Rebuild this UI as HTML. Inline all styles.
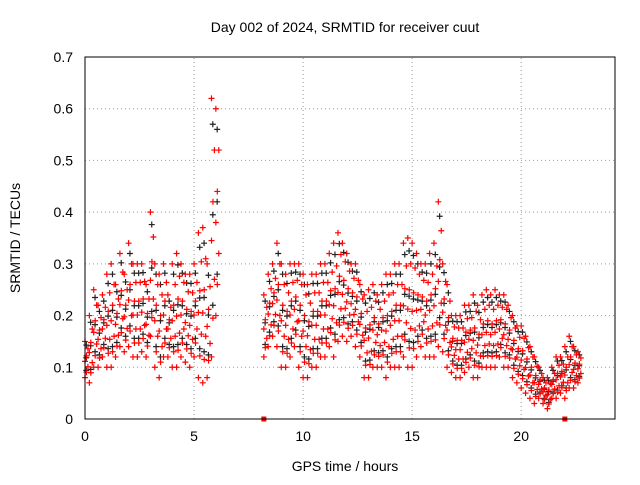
<!DOCTYPE html>
<html><head><meta charset="utf-8"><style>
body{margin:0;background:#fff}
svg text{font-family:"Liberation Sans",sans-serif;font-size:14px;fill:#000}
</style></head><body>
<svg id="c" width="640" height="480">
<text x="345" y="32" text-anchor="middle">Day 002 of 2024, SRMTID for receiver cuut</text>
<text x="345" y="471" text-anchor="middle">GPS time / hours</text>
<text transform="translate(20,238) rotate(-90)" text-anchor="middle">SRMTID / TECUs</text>
<g id="grid"></g><g id="marks"></g>
<rect x="85" y="57" width="530" height="362" fill="none" stroke="#000"/>
</svg>
<script>
const xTicks=[0,5,10,15,20];
const yTicks=[0,0.1,0.2,0.3,0.4,0.5,0.6,0.7];
const seg1Start=0, seg1Step=0.2;
const seg1Lo=[0.08,0.07,0.1,0.1,0.12,0.1,0.1,0.12,0.14,0.13,0.14,0.12,0.12,0.13,0.12,0.16,0.1,0.08,0.12,0.12,0.1,0.1,0.12,0.11,0.1,0.12,0.08,0.07,0.08,0.12,0.2];
const seg1Hi=[0.15,0.2,0.25,0.22,0.24,0.28,0.3,0.26,0.32,0.28,0.34,0.3,0.3,0.3,0.26,0.4,0.3,0.28,0.3,0.24,0.3,0.32,0.3,0.28,0.28,0.3,0.36,0.37,0.3,0.62,0.6];
const seg2Start=8.2, seg2Step=0.2;
const seg2Lo=[0.12,0.14,0.16,0.14,0.1,0.1,0.12,0.14,0.1,0.08,0.08,0.1,0.1,0.12,0.12,0.14,0.12,0.15,0.16,0.15,0.16,0.14,0.12,0.08,0.08,0.1,0.1,0.1,0.08,0.1,0.1,0.1,0.12,0.1,0.1,0.12,0.14,0.12,0.12,0.12,0.14,0.13,0.1,0.09,0.08,0.08,0.09,0.1,0.08,0.08,0.1,0.1,0.1,0.1,0.12,0.1,0.1,0.08,0.07,0.06,0.05,0.04,0.03,0.04,0.03,0.02,0.04,0.04,0.05,0.04,0.06,0.06,0.07];
const seg2Hi=[0.24,0.28,0.3,0.34,0.3,0.28,0.3,0.3,0.3,0.28,0.26,0.28,0.28,0.3,0.3,0.32,0.34,0.36,0.34,0.32,0.3,0.3,0.26,0.24,0.25,0.26,0.24,0.26,0.28,0.28,0.3,0.3,0.34,0.35,0.34,0.32,0.3,0.3,0.32,0.34,0.42,0.3,0.26,0.2,0.2,0.2,0.22,0.22,0.24,0.22,0.24,0.25,0.24,0.25,0.24,0.24,0.22,0.2,0.18,0.18,0.16,0.14,0.12,0.1,0.08,0.08,0.1,0.12,0.12,0.14,0.16,0.14,0.13];
const zeroMarks=[8.2,22.0];
const X0=85,X1=615,Y0=419,Y1=57,XMAX=24.3,YMAX=0.7;
const xs=v=>X0+(X1-X0)*v/XMAX, ys=v=>Y0-(Y0-Y1)*v/YMAX;
const ns="http://www.w3.org/2000/svg";
const grid=document.getElementById('grid'),marks=document.getElementById('marks');
function mk(tag,at,parent){const e=document.createElementNS(ns,tag);for(const k in at)e.setAttribute(k,at[k]);parent.appendChild(e);return e;}
xTicks.forEach(t=>{
 const l=mk('line',{x1:xs(t),x2:xs(t),y1:Y0,y2:Y1,stroke:'#999','stroke-dasharray':'1,3'},grid);
 
 
 const tx=mk('text',{x:xs(t),y:Y0+22,'text-anchor':'middle'},grid);tx.textContent=t;
 
 
});
yTicks.forEach(t=>{
 const l=mk('line',{x1:X0,x2:X1,y1:ys(t),y2:ys(t),stroke:'#999','stroke-dasharray':'1,3'},grid);
 
 
 const tx=mk('text',{x:X0-28,y:ys(t)+5,'text-anchor':'end'},grid);tx.textContent=t===0?'0':t.toFixed(1);
 tx.setAttribute('x',X0-12);
 
 
});
function plus(t,v,col,name){
 const x=xs(t),y=ys(v);
 const p=mk('path',{d:`M${x-3} ${y}h6M${x} ${y-3}v6`,stroke:col,'stroke-width':1.2},marks);
 
 
}
function seg(start,step,lo,hi){
 const fr=[0,0.15,0.3,0.45,0.6,0.8,1];
 lo.forEach((l,i)=>{const t=start+i*step;const h=hi[i];
  [0.2,0.55,0.9].forEach(f=>plus(t+step*0.3,l+(h-l)*f,'#222','black-point'));
 });
 lo.forEach((l,i)=>{const t=start+i*step;const h=hi[i];
  fr.forEach((f,j)=>plus(t+step*(j%3)/3,l+(h-l)*f,'#f00','red-point'));
 });
}
seg(seg1Start,seg1Step,seg1Lo,seg1Hi);
seg(seg2Start,seg2Step,seg2Lo,seg2Hi);
zeroMarks.forEach(t=>{const r=mk('rect',{x:xs(t)-2.5,y:ys(0)-2.5,width:5,height:5,fill:'#f00'},marks);
 
 });
</script>
</body></html>
